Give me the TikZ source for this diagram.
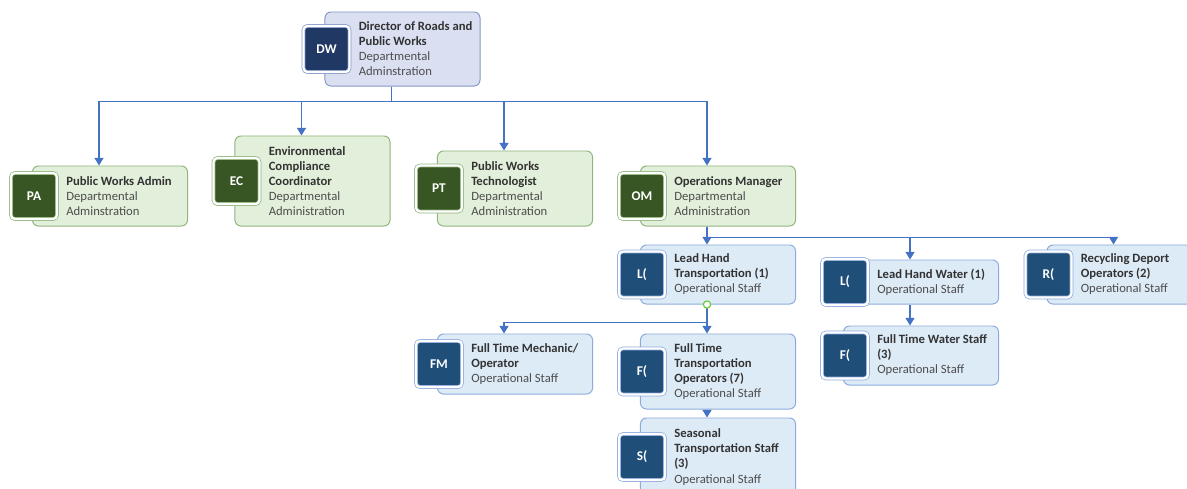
\documentclass[tikz,border=0pt]{standalone}
\usepackage{fontspec}
\setmainfont{Carlito}
\usetikzlibrary{positioning, calc, arrows.meta}

\definecolor{conncol}{HTML}{4472C4}
\definecolor{dwfill}{HTML}{DAE0F2}
\definecolor{dwline}{HTML}{8497C8}
\definecolor{dwdark}{HTML}{1F3864}
\definecolor{grfill}{HTML}{E2EFDA}
\definecolor{grline}{HTML}{8FB47C}
\definecolor{grdark}{HTML}{375623}
\definecolor{blfill}{HTML}{DDEBF7}
\definecolor{blline}{HTML}{8EAADB}
\definecolor{bldark}{HTML}{1F4E79}
\definecolor{titlecol}{HTML}{333333}
\definecolor{subcol}{HTML}{4D4D4D}
\definecolor{hubcol}{HTML}{66CC33}

\newcommand{\hd}[1]{\textcolor{titlecol}{\textbf{#1}}}

\begin{document}
\begin{tikzpicture}[
        x=0.025cm, y=-0.025cm,
        card/.style={draw, rectangle, rounded corners=0.15cm, minimum width=3.875cm, line width=0.7pt},
        dwcard/.style={card, draw=dwline, fill=dwfill},
        grcard/.style={card, draw=grline, fill=grfill},
        blcard/.style={card, draw=blline, fill=blfill},
        badge/.style={rectangle, rounded corners=0.1cm, minimum size=1.15cm, line width=0.5pt, double=white, double distance=1.6pt, text=white, font=\fontsize{9.5}{11}\selectfont\bfseries},
        dwbadge/.style={badge, draw=dwline, fill=dwdark},
        grbadge/.style={badge, draw=grline, fill=grdark},
        blbadge/.style={badge, draw=blline, fill=bldark},
        info/.style={anchor=west, align=left, text=subcol, font=\fontsize{9}{10.7}\selectfont, inner sep=0pt},
        conn/.style={draw=conncol, line width=0.8pt, -{Triangle[length=5.5pt, width=6.5pt]}},
        hub/.style={circle, draw=hubcol, fill=white, line width=0.8pt, minimum size=0.18cm, inner sep=0pt}
    ]
        \path[use as bounding box] (0,0) rectangle (1187,488);
        \clip (0,0) rectangle (1187,488);

        % Director
        \node[dwcard, minimum height=1.85cm] (dw) at (402.5,49) {};
        \node[dwbadge] (dwb) at ($(dw.west)+(2,0)$) {DW};
        \node[info] (dwt) at ($(dw.west)+(34,0)$) {\hd{Director of Roads and}\\\hd{Public Works}\\Departmental\\Adminstration};

        % Departmental administration
        \node[grcard, minimum height=1.5cm] (pa) at (110,196) {};
        \node[grbadge] (pab) at ($(pa.west)+(2,0)$) {PA};
        \node[info] (pat) at ($(pa.west)+(34,0)$) {\hd{Public Works Admin}\\Departmental\\Adminstration};

        \node[grcard, minimum height=2.25cm] (ec) at (312.5,181) {};
        \node[grbadge] (ecb) at ($(ec.west)+(2,0)$) {EC};
        \node[info] (ect) at ($(ec.west)+(34,0)$) {\hd{Environmental}\\\hd{Compliance}\\\hd{Coordinator}\\Departmental\\Administration};

        \node[grcard, minimum height=1.875cm] (pt) at (515,188.5) {};
        \node[grbadge] (ptb) at ($(pt.west)+(2,0)$) {PT};
        \node[info] (ptt) at ($(pt.west)+(34,0)$) {\hd{Public Works}\\\hd{Technologist}\\Departmental\\Administration};

        \node[grcard, minimum height=1.5cm] (om) at (718,196) {};
        \node[grbadge] (omb) at ($(om.west)+(2,0)$) {OM};
        \node[info] (omt) at ($(om.west)+(34,0)$) {\hd{Operations Manager}\\Departmental\\Administration};

        % Operational staff
        \node[blcard, minimum height=1.475cm] (lt) at (718,274.5) {};
        \node[blbadge] (ltb) at ($(lt.west)+(2,0)$) {L(};
        \node[info] (ltt) at ($(lt.west)+(34,0)$) {\hd{Lead Hand}\\\hd{Transportation (1)}\\Operational Staff};

        \node[blcard, minimum height=1.1cm] (lw) at (921,282) {};
        \node[blbadge] (lwb) at ($(lw.west)+(2,0)$) {L(};
        \node[info] (lwt) at ($(lw.west)+(34,0)$) {\hd{Lead Hand Water (1)}\\Operational Staff};

        \node[blcard, minimum height=1.475cm] (rd) at (1124.5,274.5) {};
        \node[blbadge] (rdb) at ($(rd.west)+(2,0)$) {R(};
        \node[info] (rdt) at ($(rd.west)+(34,0)$) {\hd{Recycling Deport}\\\hd{Operators (2)}\\Operational Staff};

        \node[blcard, minimum height=1.5cm] (fm) at (515,364) {};
        \node[blbadge] (fmb) at ($(fm.west)+(2,0)$) {FM};
        \node[info] (fmt) at ($(fm.west)+(34,0)$) {\hd{Full Time Mechanic/}\\\hd{Operator}\\Operational Staff};

        \node[blcard, minimum height=1.875cm] (ft) at (718,371.5) {};
        \node[blbadge] (ftb) at ($(ft.west)+(2,0)$) {F(};
        \node[info] (ftt) at ($(ft.west)+(34,0)$) {\hd{Full Time}\\\hd{Transportation}\\\hd{Operators (7)}\\Operational Staff};

        \node[blcard, minimum height=1.95cm] (st) at (718,457) {};
        \node[blbadge] (stb) at ($(st.west)+(2,0)$) {S(};
        \node[info] (stt) at ($(st.west)+(34,0)$) {\hd{Seasonal}\\\hd{Transportation Staff}\\\hd{(3)}\\Operational Staff};

        \node[blcard, minimum height=1.475cm] (fw) at (921,355.5) {};
        \node[blbadge] (fwb) at ($(fw.west)+(2,0)$) {F(};
        \node[info] (fwt) at ($(fw.west)+(34,0)$) {\hd{Full Time Water Staff}\\\hd{(3)}\\Operational Staff};

        % Connectors
        \foreach \t in {pa,ec,pt,om}
            \draw[conn] ($(dw.south)+(-11,0)$) -- ++(0,15) -| ($(\t.north)+(-11,0)$);
        \foreach \t in {lt,lw,rd}
            \draw[conn] ($(om.south)+(-11,0)$) -- ++(0,11) -| ($(\t.north)+(-11,0)$);
        \foreach \t in {fm,ft}
            \draw[conn] ($(lt.south)+(-11,0)$) -- ++(0,18) -| ($(\t.north)+(-11,0)$);
        \draw[conn] ($(ft.south)+(-11,0)$) -- ($(st.north)+(-11,0)$);
        \draw[conn] ($(lw.south)+(-11,0)$) -- ($(fw.north)+(-11,0)$);
        \node[hub] (lth) at ($(lt.south)+(-11,0)$) {};
    \end{tikzpicture}
\end{document}
